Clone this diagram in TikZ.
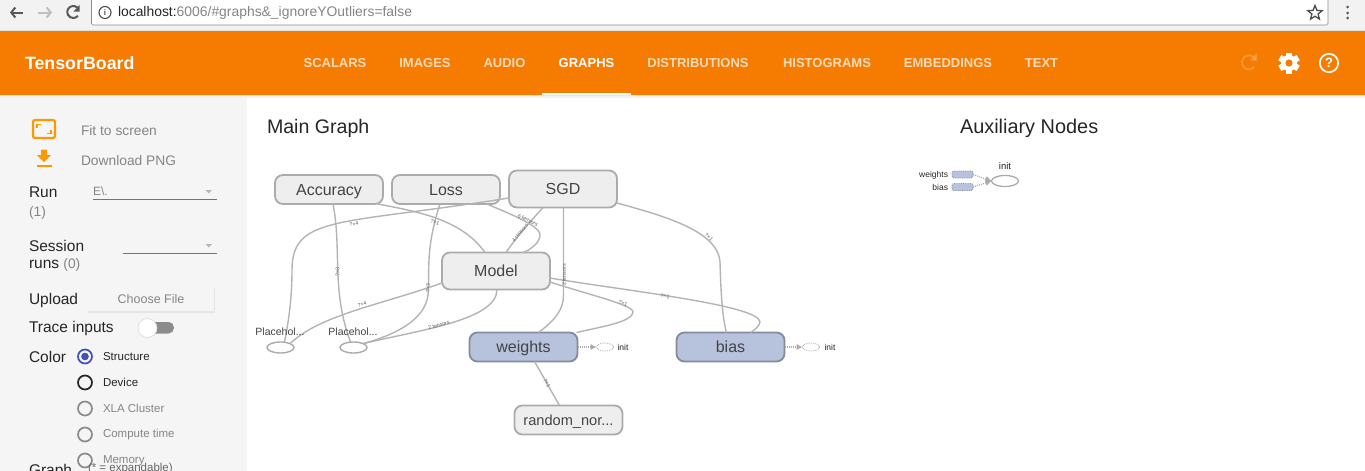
\documentclass[tikz,border=0pt]{standalone}
\usepackage{fontspec}
\setmainfont{Liberation Sans}
\usetikzlibrary{arrows.meta,shapes.geometric,calc}
\definecolor{orangeb}{HTML}{F57C00}
\definecolor{iconor}{HTML}{FF9800}
\definecolor{chrome}{HTML}{F2F2F2}
\definecolor{sidebar}{HTML}{F5F5F5}
\definecolor{nodefill}{HTML}{EEEEEE}
\definecolor{nodeline}{HTML}{ABABAB}
\definecolor{blfill}{HTML}{B7C2DC}
\definecolor{blline}{HTML}{858B9C}
\definecolor{edgec}{HTML}{B4B4B4}
\definecolor{txt}{HTML}{444444}
\definecolor{graytxt}{HTML}{858585}
\definecolor{radioblue}{HTML}{3F51B5}
\tikzset{
 x=1pt,y=-1pt,
 every node/.style={inner sep=0pt,outer sep=0pt,font=\fontsize{13}{15}\selectfont},
 opbox/.style={draw=nodeline,line width=1.8pt,fill=nodefill,rounded corners=8pt,minimum width=108pt,minimum height=29pt,text=txt,font=\fontsize{16}{18}\selectfont,text height=11.5pt,text depth=0pt},
 bigbox/.style={opbox,minimum height=37pt},
 varbox/.style={opbox,draw=blline,fill=blfill},
 edgeline/.style={draw=edgec,line width=1.4pt},
 elabel/.style={font=\fontsize{5.3}{5}\selectfont,text=black!62},
 ph/.style={ellipse,draw=nodeline,line width=1.4pt,fill=white,minimum width=27pt,minimum height=11pt},
 initell/.style={ellipse,draw=nodeline,densely dotted,line width=.8pt,minimum width=17pt,minimum height=8pt},
 phlabel/.style={font=\fontsize{10.5}{12}\selectfont,text=txt},
 initlabel/.style={font=\fontsize{8.5}{10}\selectfont,text=black!85},
 dotarrow/.style={draw=nodeline,densely dotted,line width=1.1pt,-{Latex[length=6pt,width=6.5pt]}},
 auxrect/.style={fill=blfill,draw=blline,densely dotted,line width=.8pt,rounded corners=2pt,minimum width=21pt,minimum height=7pt},
 tab/.style={font=\bfseries\fontsize{13}{15}\selectfont,text=white,opacity=.72},
 side/.style={font=\fontsize{15.5}{17}\selectfont,text=black!85,anchor=west},
 sidegray/.style={font=\fontsize{13.8}{15}\selectfont,text=graytxt,anchor=west},
 radiolab/.style={font=\fontsize{11.5}{14}\selectfont,anchor=west},
 radio/.style={circle,draw=#1,line width=1.7pt,minimum size=14pt,fill=none},
}
\begin{document}
\begin{tikzpicture}
\useasboundingbox (0,0) rectangle (1365,471);
\fill[white] (0,0) rectangle (1365,471);
% browser chrome
\fill[chrome] (0,0) rectangle (1365,30);
\fill[white,draw=black!45,line width=.6pt,rounded corners=1.5pt] (91.5,-2) rectangle (1328,25);
\fill[black!12] (0,29.5) rectangle (1365,31);
\draw[black!65,line width=2pt,-{Straight Barb[length=4pt,width=10pt]}] (23,12.5) -- (10,12.5);
\draw[black!25,line width=2pt,-{Straight Barb[length=4pt,width=10pt]}] (38,12.5) -- (52,12.5);
\draw[black!65,line width=2pt] (78.5,9) arc (-30:-320:6);
\fill[black!65] (79.5,5) -- (79.5,11.5) -- (73.5,11.5) -- cycle;
\draw[black!70,line width=1.1pt] (105,12.5) circle (6);
\node[font=\fontsize{8}{8}\selectfont\bfseries,text=black!70] (infoi) at (105,12.5) {i};
\node[anchor=west,font=\fontsize{13.9}{15}\selectfont,text=graytxt] (url) at (118,13) {\textcolor{black!85}{localhost:}6006/\#graphs\&\_ignoreYOutliers=false};
\node[star,star points=5,star point ratio=2.3,draw=black!70,line width=1.3pt,minimum size=15pt] (starb) at (1315,13) {};
\foreach \yy in {7,13,18} \fill[black!65] (1347.5,\yy) circle (1.5);
% orange bar
\fill[black!10] (0,95) rectangle (1365,96);
\fill[black!5] (0,96) rectangle (1365,97.5);
\fill[orangeb] (0,31) rectangle (1365,95);
\node[anchor=west,font=\bfseries\fontsize{17.8}{20}\selectfont,text=white] (title) at (25,63) {TensorBoard};
\node[tab] (t1) at (335,63) {SCALARS};
\node[tab] (t2) at (425,63) {IMAGES};
\node[tab] (t3) at (504.5,63) {AUDIO};
\node[tab,opacity=1] (t4) at (586.5,63) {GRAPHS};
\node[tab] (t5) at (698,63) {DISTRIBUTIONS};
\node[tab] (t6) at (827,63) {HISTOGRAMS};
\node[tab] (t7) at (948,63) {EMBEDDINGS};
\node[tab] (t8) at (1041.5,63) {TEXT};
\fill[white] (542,93) rectangle (631,95);
% reload (faded), gear, help
\draw[white,opacity=.2,line width=1.8pt] (1255.5,60) arc (-20:-320:7);
\fill[white,opacity=.2] (1257,53) -- (1257,60.5) -- (1250,60.5) -- cycle;
\foreach \a in {0,60,...,300} \fill[white,rotate around={\a:(1289,63)}] (1286,52.5) rectangle (1292,73.5);
\fill[white] (1289,63) circle (8);
\fill[orangeb] (1289,63) circle (3.6);
\draw[white,line width=1.7pt] (1329,63) circle (9.2);
\node[font=\bfseries\fontsize{13.5}{13}\selectfont,text=white] (help) at (1329,63) {?};
% sidebar
\fill[sidebar] (0,97.5) rectangle (247,471);
\draw[iconor,line width=2.2pt,rounded corners=2pt,fill=none] (33,120) rectangle (55,138);
\draw[iconor,line width=1.5pt] (37,128) -- (37,124.5) -- (41,124.5) (51,130) -- (51,133.5) -- (47,133.5);
\fill[iconor] (41,149.5) -- (47,149.5) -- (47,155) -- (51,155) -- (44,162) -- (37,155) -- (41,155) -- cycle;
\fill[iconor] (36.5,165) rectangle (51.5,167);
\node[sidegray] (fit) at (81,130.5) {Fit to screen};
\node[sidegray] (dl) at (81,160.5) {Download PNG};
\node[side] (run) at (29,192) {Run};
\node[sidegray] (runn) at (29,212.5) {(1)};
\node[anchor=west,font=\fontsize{12}{14}\selectfont,text=graytxt] (ev) at (93,191.5) {E\textbackslash.};
\draw[black!55,line width=.7pt] (93,199.5) -- (217,199.5);
\fill[black!28] (205.5,190) -- (212,190) -- (208.75,193.5) -- cycle;
\node[side] (sess) at (29,245.5) {Session};
\node[side] (runs) at (29,265) {runs \textcolor{graytxt}{\fontsize{13.8}{15}\selectfont(0)}};
\draw[black!55,line width=.7pt] (123,253.5) -- (217,253.5);
\fill[black!28] (205.5,244) -- (212,244) -- (208.75,247.5) -- cycle;
\node[side] (up) at (29,300.5) {Upload};
\fill[black!10] (87.5,288) rectangle (214.5,313);
\node[fill=sidebar,minimum width=126pt,minimum height=24pt,font=\fontsize{12.5}{14}\selectfont,text=graytxt] (cf) at (151,299) {Choose File};
\node[side] (tr) at (29,328.5) {Trace inputs};
\fill[black!45,rounded corners=5.5pt] (146,322) rectangle (174,333.5);
\fill[white,draw=black!15,line width=.6pt] (147.5,328) circle (9.5);
\node[side] (col) at (29,356.5) {Color};
\node[radio=radioblue] (r1) at (85,356.5) {};
\fill[radioblue] (r1.center) circle (3.8);
\node[radio=black!85] (r2) at (85,382.5) {};
\node[radio=black!45] (r3) at (85,408.5) {};
\node[radio=black!45] (r4) at (85,434.5) {};
\node[radio=black!45] (r5) at (85,460.5) {};
\node[radiolab,text=black!85] (l1) at (103,356.5) {Structure};
\node[radiolab,text=black!85] (l2) at (103,382.5) {Device};
\node[radiolab,text=graytxt] (l3) at (103,408.5) {XLA Cluster};
\node[radiolab,text=graytxt] (l4) at (103,434.5) {Compute time};
\node[side] (gr) at (29,471) {Graph};
\node[anchor=west,font=\fontsize{11.5}{14}\selectfont,text=black!60] (exp) at (88,468.5) {(* = expandable)};
\node[radiolab,text=graytxt] (l5) at (103,460.5) {Memory};
% graph titles
\node[anchor=west,font=\fontsize{19.6}{21}\selectfont,text=black!85] (mg) at (267,128.5) {Main Graph};
\node[anchor=west,font=\fontsize{19.9}{21}\selectfont,text=black!85] (an) at (960,128.5) {Auxiliary Nodes};
% nodes
\node[opbox] (accuracy) at (329,189.5) {Accuracy};
\node[opbox] (loss) at (446,189.5) {Loss};
\node[bigbox] (sgd) at (563,189) {SGD};
\node[bigbox] (model) at (496,271) {Model};
\node[varbox] (weights) at (523.5,347) {weights};
\node[varbox] (bias) at (730.5,347) {bias};
\node[opbox,font=\fontsize{14.6}{18}\selectfont] (random) at (568.5,420) {random\_nor...};
\node[ph] (p1) at (280.5,347.5) {};
\node[ph] (p2) at (353.5,347.5) {};
% edges, node border to node border
\draw[edgeline] ([xshift=4pt]p1.north) .. controls (288,325) and (292,300) .. (292,270) .. controls (292,215) and (340,225) .. (sgd.west |- 0,198);
\draw[edgeline] ([xshift=4pt]accuracy.south) .. controls (342,250) and (331,290) .. ([xshift=-3pt]p2.north);
\draw[edgeline] ([xshift=49pt]accuracy.south) .. controls (420,212) and (462,220) .. ([xshift=-11pt]model.north);
\draw[edgeline] ([xshift=-6pt]loss.south) .. controls (425,250) and (430,270) .. (428,295) .. controls (425,320) and (395,335) .. (p2.north east);
\draw[edgeline] ([yshift=-12pt]model.west) .. controls (380,305) and (320,315) .. (p1.north east);
\draw[edgeline] ([xshift=1pt]model.south) .. controls (497,320) and (420,330) .. (p2.north east);
\draw[edgeline] ([xshift=41pt]loss.south) .. controls (505,212) and (540,225) .. (540,235) .. controls (540,243) and (530,250) .. ([xshift=27pt]model.north);
\draw[edgeline] ([xshift=-20pt]sgd.south) .. controls (530,222) and (518,235) .. ([xshift=10pt]model.north);
\draw[edgeline] ([xshift=.5pt]sgd.south) -- (563.5,295) .. controls (563.5,310) and (555,320) .. ([xshift=15pt]weights.north);
\draw[edgeline] ([yshift=-11pt]model.east) .. controls (590,295) and (633,305) .. (633,312) .. controls (633,322) and (600,327) .. ([xshift=53pt]weights.north);
\draw[edgeline] ([yshift=-14pt]sgd.east) .. controls (660,215) and (718,230) .. (720,262) .. controls (721,300) and (723,320) .. ([xshift=-4pt]bias.north);
\draw[edgeline] ([yshift=-7pt]model.east) .. controls (620,290) and (760,305) .. (760,322) .. controls (760,325) and (755,330) .. ([xshift=20pt]bias.north);
\draw[edgeline] ([xshift=11pt]weights.south) -- ([xshift=-9pt]random.north);
% edge labels
\node[elabel,rotate=12] (e1) at (354,224) {?×4};
\node[elabel,rotate=90] (e2) at (337.5,272) {?×3};
\node[elabel,rotate=-20] (e3) at (435,222) {?×1};
\node[elabel,rotate=90] (e4) at (428,288) {?×3};
\node[elabel,rotate=18] (e5) at (362,304) {?×4};
\node[elabel,rotate=15] (e6) at (439,325) {2 tensors};
\node[elabel,rotate=50] (e7) at (520,233) {4 tensors};
\node[elabel,rotate=-25] (e8) at (528,220) {6 tensors};
\node[elabel,rotate=90] (e9) at (564,275) {2 tensors};
\node[elabel,rotate=-20] (e10) at (623,303) {?×1};
\node[elabel,rotate=-8] (e11) at (665,296) {?×1};
\node[elabel,rotate=-40] (e12) at (709,237) {?×1};
\node[elabel,rotate=-60] (e13) at (547,383) {?×1};
% init
\node[phlabel] (ph1) at (280,332) {Placehol...};
\node[phlabel] (ph2) at (353,332) {Placehol...};
\node[initell] (i1) at (605,347) {};
\node[initell] (i2) at (811,347) {};
\node[initlabel] (il1) at (623,347) {init};
\node[initlabel] (il2) at (830,347) {init};
\draw[dotarrow] (weights.east) -- (i1.west);
\draw[dotarrow] (bias.east) -- (i2.west);
% auxiliary
\node[auxrect] (aw) at (962.5,174.5) {};
\node[auxrect] (ab) at (962.5,187) {};
\node[ellipse,draw=nodeline,line width=1.3pt,minimum width=27pt,minimum height=11pt] (ai) at (1005,181) {};
\node[font=\fontsize{8.5}{10}\selectfont,text=black!85,anchor=east] (awl) at (948,175) {weights};
\node[font=\fontsize{8.5}{10}\selectfont,text=black!85,anchor=east] (abl) at (948,187) {bias};
\node[font=\fontsize{9.5}{10}\selectfont,text=black!85] (ail) at (1005,166.5) {init};
\draw[dotarrow] (aw.east) -- (ai.west);
\draw[dotarrow] (ab.east) -- (ai.west);
\end{tikzpicture}
\end{document}
